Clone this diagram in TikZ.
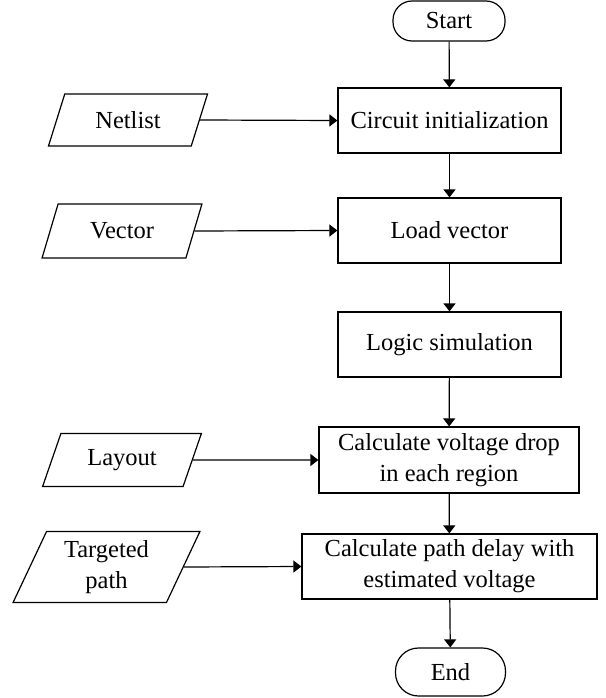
\documentclass[tikz,border=0pt]{standalone}
\usepackage{fontspec}
\setmainfont{Liberation Serif}
\usetikzlibrary{shapes.geometric,arrows.meta}

\begin{document}
\begin{tikzpicture}[x=1pt,y=-1pt,
  every node/.style={font=\fontsize{24.5}{31}\selectfont, inner sep=0pt, align=center},
  flow/.style={line width=1.2pt, -{Triangle[length=8pt,width=12pt]}},
  procbox/.style={draw, line width=1.2pt, rectangle, minimum height=65pt},
  term/.style={draw, line width=1.2pt, rounded corners=19pt, minimum width=112pt, minimum height=40pt},
  datain/.style={draw, line width=1.2pt, trapezium, trapezium stretches=true,
    trapezium left angle=64, trapezium right angle=116, minimum width=160pt}
]
\useasboundingbox (0,0) rectangle (605,698);

% main process column
\node[term] (start) at (449,21) {Start};
\node[procbox, minimum width=223pt] (init) at (449.5,120.5) {Circuit initialization};
\node[procbox, minimum width=223pt] (load) at (449.5,230.5) {Load vector};
\node[procbox, minimum width=223pt] (logic) at (449.5,344.5) {Logic simulation};
\node[procbox, minimum width=260pt, minimum height=66pt] (drop) at (449,460) {Calculate voltage drop\\in each region};
\node[procbox, minimum width=295pt] (delay) at (449.5,566.5) {Calculate path delay with\\estimated voltage};
\node[term, minimum width=110pt, minimum height=48pt, rounded corners=23pt] (end) at (450.5,672) {End};

% input data
\node[datain, minimum height=52pt] (netlist) at (128,120) {Netlist};
\node[datain, minimum height=54pt] (vector) at (122,231) {Vector};
\node[datain, minimum height=53pt] (layout) at (122,460) {Layout};
\node[datain, minimum width=187pt, minimum height=71pt, trapezium left angle=66, trapezium right angle=114] (target) at (106.5,567) {Targeted\\path};

% connectors
\draw[flow] (start) -- (init);
\draw[flow] (init) -- (load);
\draw[flow] (load) -- (logic);
\draw[flow] (logic) -- (drop);
\draw[flow] (drop) -- (delay);
\draw[flow] (delay) -- (end);
\draw[flow] (netlist.east) -- (init.west);
\draw[flow] (vector.east) -- (load.west);
\draw[flow] (layout.east) -- (drop.west);
\draw[flow] (target.east) -- (delay.west);
\end{tikzpicture}
\end{document}
